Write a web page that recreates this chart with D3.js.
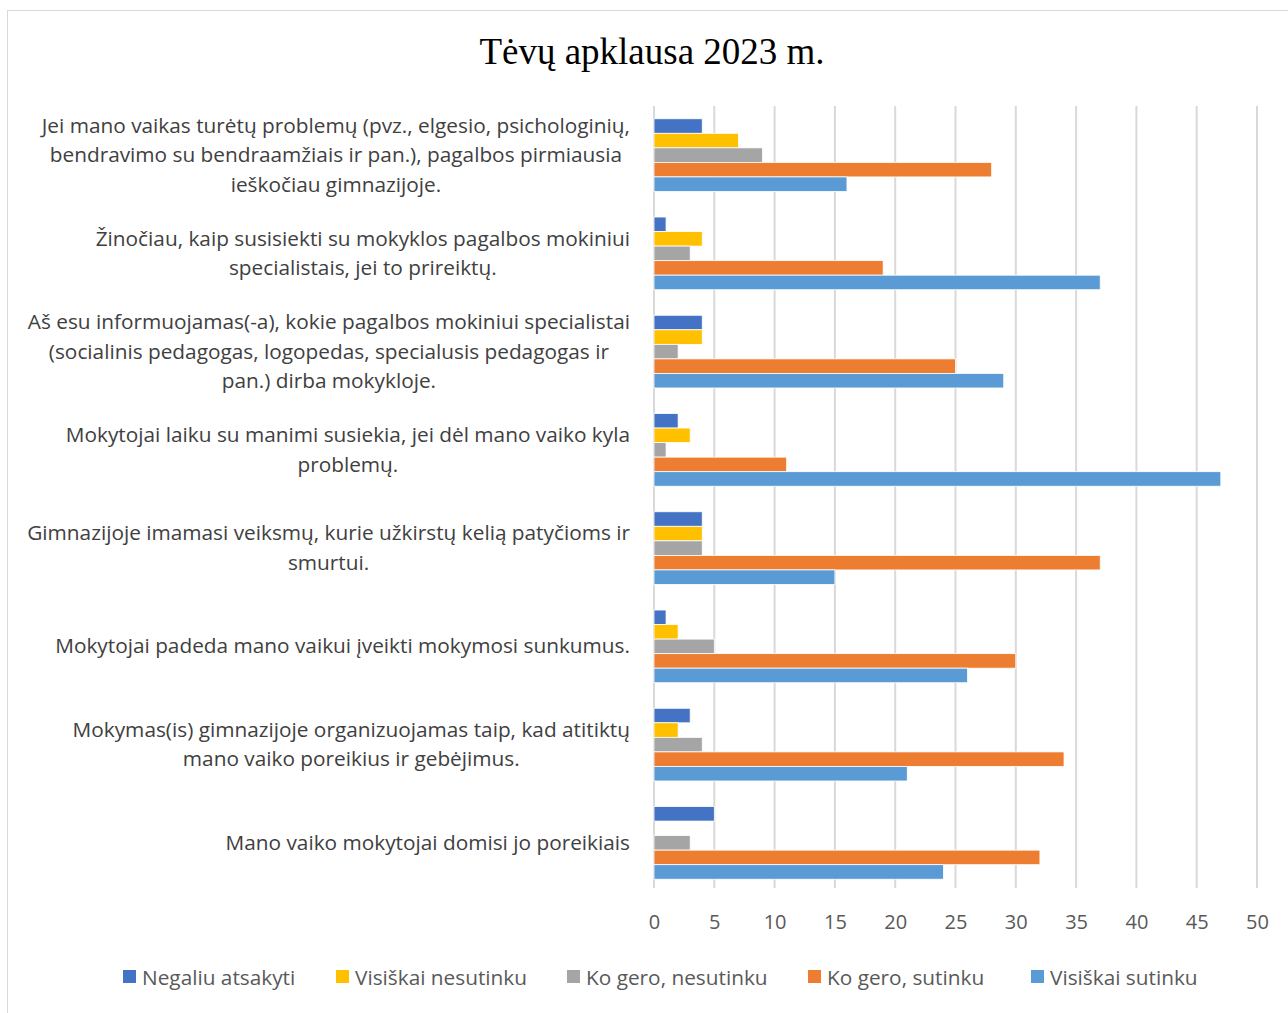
<!DOCTYPE html>
<html>
<head>
<meta charset="utf-8">
<script src="https://cdn.jsdelivr.net/npm/d3@7"></script>
<style>
  body { margin: 0; background: #fff; }
  text { font-family: "Open Sans", "Noto Sans", sans-serif; }
</style>
</head>
<body>
<div id="chart"></div>
<script>
// category labels, already split into lines like in the original
var categories = [
    ["Jei mano vaikas turėtų problemų (pvz., elgesio, psichologinių,", "bendravimo su bendraamžiais ir pan.), pagalbos pirmiausia", "ieškočiau gimnazijoje."],
    ["Žinočiau, kaip susisiekti su mokyklos pagalbos mokiniui", "specialistais, jei to prireiktų."],
    ["Aš esu informuojamas(-a), kokie pagalbos mokiniui specialistai", "(socialinis pedagogas, logopedas, specialusis pedagogas ir", "pan.) dirba mokykloje."],
    ["Mokytojai laiku su manimi susiekia, jei dėl mano vaiko kyla", "problemų."],
    ["Gimnazijoje imamasi veiksmų, kurie užkirstų kelią patyčioms ir", "smurtui."],
    ["Mokytojai padeda mano vaikui įveikti mokymosi sunkumus."],
    ["Mokymas(is) gimnazijoje organizuojamas taip, kad atitiktų", "mano vaiko poreikius ir gebėjimus."],
    ["Mano vaiko mokytojai domisi jo poreikiais"]
];

var series = ["Negaliu atsakyti", "Visiškai nesutinku", "Ko gero, nesutinku", "Ko gero, sutinku", "Visiškai sutinku"];
var colors = ["#4472C4", "#FFC000", "#A5A5A5", "#ED7D31", "#5B9BD5"];

// values per series, same order as categories
var negaliu = [4, 1, 4, 2, 4, 1, 3, 5];
var visiskaiNesutinku = [7, 4, 4, 3, 4, 2, 2, 0];
var koGeroNesutinku = [9, 3, 2, 1, 4, 5, 4, 3];
var koGeroSutinku = [28, 19, 25, 11, 37, 30, 34, 32];
var visiskaiSutinku = [16, 37, 29, 47, 15, 26, 21, 24];

var xTicks = [0, 5, 10, 15, 20, 25, 30, 35, 40, 45, 50];

var values = [negaliu, visiskaiNesutinku, koGeroNesutinku, koGeroSutinku, visiskaiSutinku];

var width = 1288, height = 1013;
var plot = {left: 654, right: 1257, top: 106, bottom: 892};

var svg = d3.select("#chart")
        .append("svg")
        .attr("width", width)
        .attr("height", height);

// chart frame
svg.append("rect")
        .attr("x", 7.5)
        .attr("y", 10.5)
        .attr("width", width)
        .attr("height", height)
        .attr("fill", "#fff")
        .attr("stroke", "#D9D9D9")
        .attr("stroke-width", 1);

// title
svg.append("text")
        .attr("x", 652)
        .attr("y", 64)
        .attr("text-anchor", "middle")
        .style("font-family", "'Liberation Serif', 'DejaVu Serif', serif")
        .style("font-size", "37px")
        .attr("fill", "#000")
        .text("Tėvų apklausa 2023 m.");

var x = d3.scaleLinear()
        .domain([0, 50])
        .range([plot.left, plot.right]);

var y = d3.scaleBand()
        .domain(d3.range(categories.length))
        .range([plot.top, plot.bottom])
        .paddingInner(0.26)
        .paddingOuter(0.13);

var ySub = d3.scaleBand()
        .domain(d3.range(series.length))
        .range([0, y.bandwidth()]);

// grid lines
svg.append("g")
        .selectAll("line")
        .data(xTicks)
        .enter()
        .append("line")
        .attr("x1", function (d) { return x(d); })
        .attr("x2", function (d) { return x(d); })
        .attr("y1", plot.top)
        .attr("y2", plot.bottom - 4)
        .attr("stroke", "#D9D9D9")
        .attr("stroke-width", 2);

// x axis labels
var xAxis = svg.append("g")
        .attr("transform", "translate(0," + (plot.bottom + 11) + ")")
        .call(d3.axisBottom(x).tickValues(xTicks).tickSize(0).tickPadding(12));
xAxis.select(".domain").remove();
xAxis.selectAll("text")
        .style("font-size", "20px")
        .style("font-family", "'Open Sans', sans-serif")
        .attr("fill", "#595959");

// bars
var groups = svg.append("g")
        .selectAll("g")
        .data(categories)
        .enter()
        .append("g")
        .attr("transform", function (d, i) { return "translate(0," + y(i) + ")"; });

groups.selectAll("rect")
        .data(function (d, i) {
            return series.map(function (s, j) { return {s: j, v: values[j][i]}; });
        })
        .enter()
        .append("rect")
        .attr("x", x(0))
        .attr("y", function (d) { return ySub(d.s); })
        .attr("width", function (d) { return x(d.v) - x(0); })
        .attr("height", ySub.bandwidth())
        .attr("fill", function (d) { return colors[d.s]; })
        .attr("stroke", "#fff")
        .attr("stroke-width", 0.8);

// category labels: centered lines, block right-aligned
var labelRight = 630, lineH = 29.5;
var labels = svg.append("g")
        .selectAll("text")
        .data(categories)
        .enter()
        .append("text")
        .style("font-size", "20.8px")
        .attr("fill", "#404040")
        .attr("text-anchor", "middle");

labels.each(function (lines, i) {
    var t = d3.select(this);
    var cy = y(i) + y.bandwidth() / 2;
    var y0 = cy - (lines.length - 1) * lineH / 2 + 7;
    lines.forEach(function (l, k) {
        t.append("tspan").attr("y", y0 + k * lineH).text(l);
    });
    var maxW = 0;
    t.selectAll("tspan").each(function () {
        maxW = Math.max(maxW, this.getComputedTextLength());
    });
    t.selectAll("tspan").attr("x", labelRight - maxW / 2);
});

// legend
var legendX = [123, 336, 567, 808, 1031];
var legend = svg.append("g")
        .selectAll("g")
        .data(series)
        .enter()
        .append("g")
        .attr("transform", function (d, i) { return "translate(" + legendX[i] + ",977)"; });

legend.append("rect")
        .attr("x", 0)
        .attr("y", -7)
        .attr("width", 13)
        .attr("height", 13)
        .attr("fill", function (d, i) { return colors[i]; });

legend.append("text")
        .attr("x", 19)
        .attr("y", 7.5)
        .style("font-size", "20.8px")
        .attr("fill", "#595959")
        .text(function (d) { return d; });
</script>
</body>
</html>
